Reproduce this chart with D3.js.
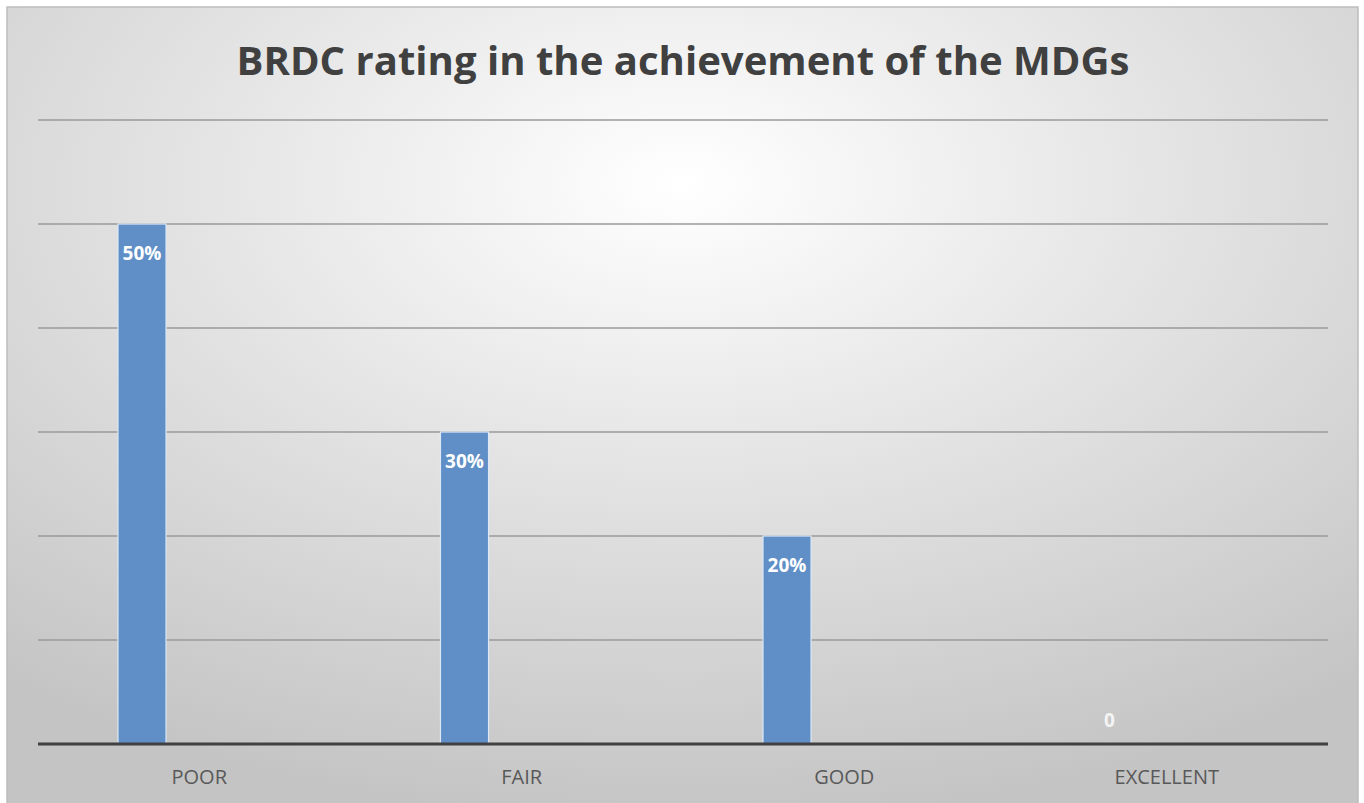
<!DOCTYPE html>
<html><head><meta charset="utf-8">
<script src="https://cdn.jsdelivr.net/npm/d3@7"></script>
<style>html,body{margin:0;padding:0;background:#fff;}svg{display:block;}</style>
</head><body>
<svg id="c" width="1364" height="803"></svg>
<script>
const title = "BRDC rating in the achievement of the MDGs";
const categories = ["POOR", "FAIR", "GOOD", "EXCELLENT"];
const values = [0.5, 0.3, 0.2, 0];
const valueLabels = ["50%", "30%", "20%", "0"];
const yTicks = [0, 0.1, 0.2, 0.3, 0.4, 0.5, 0.6];

const svg = d3.select("#c");
const W = 1364, H = 803;
const defs = svg.append("defs");
const g = defs.append("radialGradient").attr("id","bg")
  .attr("cx","50%").attr("cy","22%").attr("r","80%").attr("fx","50%").attr("fy","22%");
g.append("stop").attr("offset","0%").attr("stop-color","#ffffff");
g.append("stop").attr("offset","45%").attr("stop-color","#e4e4e4");
g.append("stop").attr("offset","100%").attr("stop-color","#c4c4c4");

svg.append("rect").attr("x",7).attr("y",7).attr("width",1351).attr("height",800)
  .attr("fill","url(#bg)").attr("stroke","#bdbdbd").attr("stroke-width",1.5);

const margin = {left:38, right:36, top:120, bottom:59};
const x = d3.scaleBand().domain(categories).range([margin.left, W - margin.right]).padding(0);
const y = d3.scaleLinear().domain([0, 0.6]).range([H - margin.bottom, margin.top]);

// gridlines
svg.append("g").selectAll("line").data(yTicks.filter(t => t > 0)).join("line")
  .attr("x1", margin.left).attr("x2", W - margin.right)
  .attr("y1", d => y(d)).attr("y2", d => y(d))
  .attr("stroke", "#9a9a9a").attr("stroke-width", 1.6);

const bw = x.bandwidth();
const barX = c => x(c) + bw * 0.248;
const barW = bw * 0.149;

svg.append("g").selectAll("rect").data(values).join("rect")
  .attr("x", (d,i) => barX(categories[i]))
  .attr("width", barW)
  .attr("y", d => y(d))
  .attr("height", d => y(0) - y(d))
  .attr("fill", "#5f8fc6")
  .attr("stroke", "#dce8f5").attr("stroke-width", 1.2);

// baseline
svg.append("line").attr("x1", margin.left).attr("x2", W - margin.right)
  .attr("y1", y(0)).attr("y2", y(0)).attr("stroke", "#404040").attr("stroke-width", 3);

// value labels
svg.append("g").selectAll("text").data(values).join("text")
  .attr("x", (d,i) => barX(categories[i]) + barW/2)
  .attr("y", d => d > 0 ? y(d) + 36 : y(0) - 17)
  .attr("text-anchor","middle")
  .attr("font-family","'Open Sans', 'Noto Sans', sans-serif")
  .attr("font-weight","bold").attr("font-size", 19)
  .attr("fill", (d) => d > 0 ? "#ffffff" : "#f4f4f4")
  .text((d,i) => valueLabels[i]);

// x axis labels
const xAxis = d3.axisBottom(x).tickSize(0).tickPadding(26);
const ax = svg.append("g").attr("transform", `translate(0,${y(0)})`).call(xAxis);
ax.select(".domain").remove();
ax.selectAll("text").attr("font-family","'Open Sans', 'Noto Sans', sans-serif")
  .attr("font-size", 20).attr("fill","#595959");

// title
svg.append("text").attr("x", 683).attr("y", 75).attr("text-anchor","middle")
  .attr("font-family","'Open Sans', 'Noto Sans', sans-serif").attr("font-weight","bold")
  .attr("font-size", 39).attr("fill","#404040")
  .attr("textLength", 893).attr("lengthAdjust","spacingAndGlyphs")
  .text(title);
</script>
</body></html>
